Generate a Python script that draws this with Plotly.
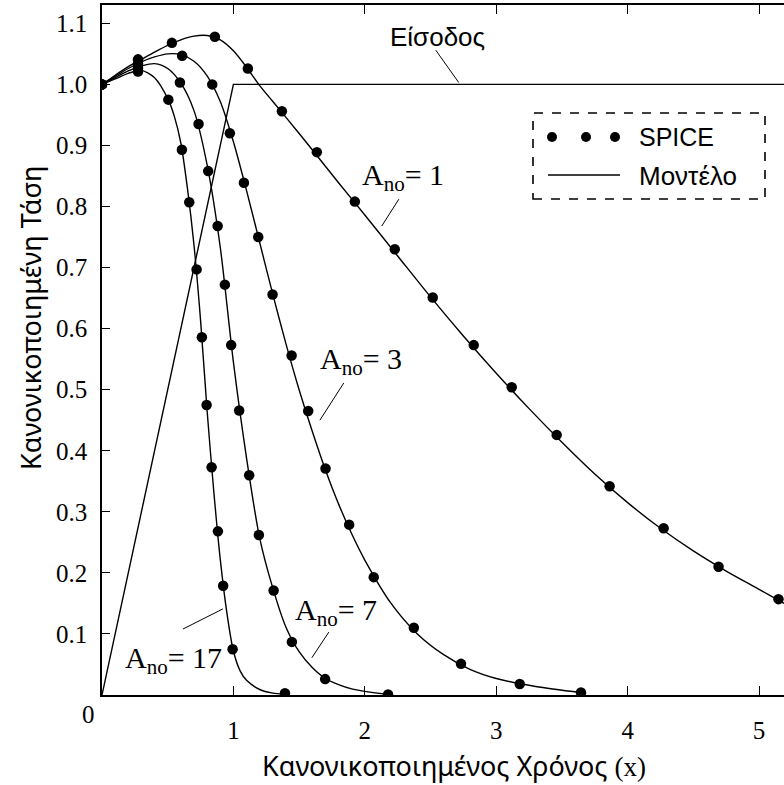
import plotly.graph_objects as go

# ---------------- data ----------------
# Input (normalized ramp then step)
input_x = [0.0, 1.0, 5.19]
input_y = [0.0, 1.0, 1.0]

# SPICE simulation points
spice1_x = [0.0, 0.274, 0.532, 0.859, 1.110, 1.369, 1.635, 1.924, 2.228, 2.517, 2.829,
            3.118, 3.460, 3.863, 4.274, 4.692, 5.148]
spice1_y = [1.0, 1.041, 1.068, 1.078, 1.026, 0.956, 0.889, 0.808, 0.730, 0.651, 0.573,
            0.504, 0.426, 0.342, 0.273, 0.210, 0.157]

spice3_x = [0.0, 0.274, 0.610, 0.839, 0.973, 1.080, 1.189, 1.298, 1.443, 1.569, 1.701,
            1.881, 2.068, 2.373, 2.732, 3.179, 3.645]
spice3_y = [1.0, 1.034, 1.047, 1.000, 0.920, 0.839, 0.750, 0.656, 0.556, 0.465, 0.371,
            0.279, 0.193, 0.110, 0.051, 0.018, 0.004]

spice7_x = [0.0, 0.274, 0.593, 0.735, 0.808, 0.880, 0.935, 0.983, 1.044, 1.120, 1.194,
            1.306, 1.445, 1.698, 2.177]
spice7_y = [1.0, 1.027, 1.003, 0.935, 0.858, 0.768, 0.672, 0.573, 0.466, 0.360, 0.262,
            0.171, 0.087, 0.026, 0.001]

spice17_x = [0.0, 0.274, 0.505, 0.608, 0.664, 0.720, 0.760, 0.796, 0.834, 0.882, 0.922,
             0.994, 1.392]
spice17_y = [1.0, 1.021, 0.975, 0.893, 0.807, 0.697, 0.586, 0.475, 0.373, 0.268, 0.179,
             0.075, 0.003]

# Model curves
model1_x = [0.0, 0.1, 0.2, 0.3, 0.4, 0.5, 0.6, 0.7, 0.8, 0.9, 1.0, 1.1, 1.2, 1.3, 1.4,
            1.6, 1.8, 2.0, 2.25, 2.5, 2.75, 3.0, 3.25, 3.5, 3.75, 4.0, 4.25, 4.5, 4.75,
            5.0, 5.19]
model1_y = [1.0, 1.015, 1.029, 1.041, 1.053, 1.064, 1.073, 1.079, 1.080, 1.073, 1.055,
            1.028, 0.998, 0.972, 0.946, 0.893, 0.839, 0.786, 0.719, 0.652, 0.588, 0.527,
            0.469, 0.414, 0.362, 0.315, 0.273, 0.236, 0.203, 0.173, 0.150]

model3_x = [0.0, 0.1, 0.2, 0.3, 0.4, 0.5, 0.6, 0.7, 0.8, 0.9, 1.0, 1.1, 1.2, 1.3, 1.4,
            1.5, 1.6, 1.7, 1.8, 1.9, 2.0, 2.2, 2.4, 2.6, 2.8, 3.0, 3.3, 3.645]
model3_y = [1.0, 1.013, 1.026, 1.037, 1.045, 1.050, 1.049, 1.038, 1.014, 0.972, 0.906,
            0.826, 0.741, 0.656, 0.575, 0.500, 0.432, 0.369, 0.313, 0.264, 0.221, 0.150,
            0.100, 0.066, 0.042, 0.027, 0.014, 0.004]

model7_x = [0.0, 0.1, 0.2, 0.3, 0.4, 0.5, 0.6, 0.7, 0.8, 0.9, 1.0, 1.1, 1.2, 1.3, 1.4,
            1.5, 1.6, 1.7, 1.8, 1.9, 2.0, 2.177]
model7_y = [1.0, 1.011, 1.022, 1.030, 1.034, 1.026, 1.002, 0.957, 0.868, 0.733, 0.545,
            0.388, 0.257, 0.175, 0.111, 0.071, 0.045, 0.027, 0.017, 0.010, 0.006, 0.001]

model17_x = [0.0, 0.1, 0.2, 0.3, 0.4, 0.5, 0.55, 0.6, 0.65, 0.7, 0.75, 0.8, 0.85, 0.9,
             0.95, 1.0, 1.05, 1.1, 1.2, 1.3, 1.392]
model17_y = [1.0, 1.009, 1.018, 1.023, 1.011, 0.977, 0.948, 0.904, 0.830, 0.737, 0.614,
             0.465, 0.335, 0.222, 0.135, 0.072, 0.040, 0.024, 0.009, 0.003, 0.001]

y_ticks = [0.1, 0.2, 0.3, 0.4, 0.5, 0.6, 0.7, 0.8, 0.9, 1.0, 1.1]
y_tick_text = ["0.1", "0.2", "0.3", "0.4", "0.5", "0.6", "0.7", "0.8", "0.9", "1.0", "1.1"]
x_ticks = [1, 2, 3, 4, 5]
x_tick_text = ["1", "2", "3", "4", "5"]

# ---------------- figure ----------------
W, H = 784, 785
ML, MR, MT, MB = 102, 0, 5, 90
PW, PH = W - ML - MR, H - MT - MB


def px(xp):
    return (xp - ML) / PW


def py(yp):
    return (H - MB - yp) / PH


SERIF = "Liberation Serif"
SANS = "Liberation Sans"
TITLE = "Noto Sans"

fig = go.Figure()

line_style = dict(color="black", width=1.4)
fig.add_trace(go.Scatter(x=input_x, y=input_y, mode="lines", line=line_style,
                         hoverinfo="skip", showlegend=False))

for mx, my in [(model1_x, model1_y), (model3_x, model3_y),
               (model7_x, model7_y), (model17_x, model17_y)]:
    fig.add_trace(go.Scatter(x=mx, y=my, mode="lines",
                             line=dict(color="black", width=1.4, shape="spline", smoothing=0.8),
                             showlegend=False))

for sx, sy in [(spice1_x, spice1_y), (spice3_x, spice3_y),
               (spice7_x, spice7_y), (spice17_x, spice17_y)]:
    fig.add_trace(go.Scatter(x=sx, y=sy, mode="markers",
                             marker=dict(color="black", size=10.5, line=dict(width=0)),
                             showlegend=False))

shapes = []
annotations = []

# curve labels with leader lines
labels = [
    ("A<sub>no</sub>= 1", 1.962, 0.848, (2.259, 0.812), (2.129, 0.768)),
    ("A<sub>no</sub>= 3", 1.643, 0.547, (1.840, 0.511), (1.658, 0.450)),
    ("A<sub>no</sub>= 7", 1.452, 0.136, (1.726, 0.103), (1.597, 0.061)),
    ("A<sub>no</sub>= 17", 0.160, 0.057, (0.616, 0.108), (0.920, 0.141)),
]
for txt, lx, ly, p0, p1 in labels:
    annotations.append(dict(x=lx, y=ly, xref="x", yref="y", text=txt, showarrow=False,
                            xanchor="left", yanchor="middle",
                            font=dict(family=SERIF, size=30, color="black")))
    shapes.append(dict(type="line", xref="x", yref="y", x0=p0[0], y0=p0[1],
                       x1=p1[0], y1=p1[1], line=dict(color="black", width=1)))

# input label
annotations.append(dict(x=2.555, y=1.077, xref="x", yref="y", text="Είσοδος",
                        showarrow=False, xanchor="center", yanchor="middle",
                        font=dict(family=SANS, size=26, color="black")))
shapes.append(dict(type="line", xref="x", yref="y", x0=2.540, y0=1.056, x1=2.715, y1=1.003,
                   line=dict(color="black", width=1)))

# legend box
shapes.append(dict(type="rect", xref="paper", yref="paper",
                   x0=px(533), x1=px(765), y0=py(199), y1=py(113),
                   line=dict(color="black", width=1.6, dash="dash"), fillcolor="white",
                   layer="below"))
for cx in (552, 586, 615):
    shapes.append(dict(type="circle", xref="paper", yref="paper",
                       x0=px(cx - 5), x1=px(cx + 5), y0=py(137 + 5), y1=py(137 - 5),
                       fillcolor="black", line=dict(width=0)))
shapes.append(dict(type="line", xref="paper", yref="paper",
                   x0=px(548), x1=px(620), y0=py(175), y1=py(175),
                   line=dict(color="black", width=1.4)))
annotations.append(dict(x=px(637), y=py(137), xref="paper", yref="paper", text="SPICE",
                        showarrow=False, xanchor="left", yanchor="middle",
                        font=dict(family=SANS, size=25, color="black")))
annotations.append(dict(x=px(637), y=py(176), xref="paper", yref="paper", text="Μοντέλο",
                        showarrow=False, xanchor="left", yanchor="middle",
                        font=dict(family=SANS, size=26, color="black")))

# origin label
annotations.append(dict(x=px(88), y=py(715), xref="paper", yref="paper", text="0",
                        showarrow=False, xanchor="center", yanchor="middle",
                        font=dict(family=SERIF, size=25, color="black")))

# axis titles
annotations.append(dict(x=px(454), y=py(765), xref="paper", yref="paper",
                        text="Κανονικοποιημένος Χρόνος <span style=\"font-family:Liberation Serif\">(x)</span>",
                        showarrow=False, xanchor="center", yanchor="middle",
                        font=dict(family=TITLE, size=27, color="black")))
annotations.append(dict(x=px(30), y=py(318), xref="paper", yref="paper",
                        text="Κανονικοποιημένη Τάση", textangle=-90,
                        showarrow=False, xanchor="center", yanchor="middle",
                        font=dict(family=TITLE, size=27, color="black")))

tick_font = dict(family=SERIF, size=25, color="black")

fig.update_layout(
    width=W, height=H,
    margin=dict(l=ML, r=MR, t=MT, b=MB),
    font=dict(family=SERIF, size=25, color="black"),
    paper_bgcolor="white", plot_bgcolor="white",
    showlegend=False,
    shapes=shapes,
    annotations=annotations,
)
fig.update_xaxes(range=[0, 5.19], tickmode="array", tickvals=x_ticks, ticktext=x_tick_text,
                 ticks="inside", ticklen=9, tickwidth=1.4, tickcolor="black",
                 showline=True, linewidth=1.6, linecolor="black", mirror="ticks",
                 showgrid=False, zeroline=False, ticklabelstandoff=12,
                 tickfont=tick_font)
fig.update_yaxes(range=[0, 1.13], tickmode="array", tickvals=y_ticks, ticktext=y_tick_text,
                 ticks="inside", ticklen=8, tickwidth=1.4, tickcolor="black",
                 showline=True, linewidth=1.6, linecolor="black", mirror=False,
                 showgrid=False, zeroline=False, ticklabelstandoff=8,
                 tickfont=tick_font)

fig.write_html("out.html")
